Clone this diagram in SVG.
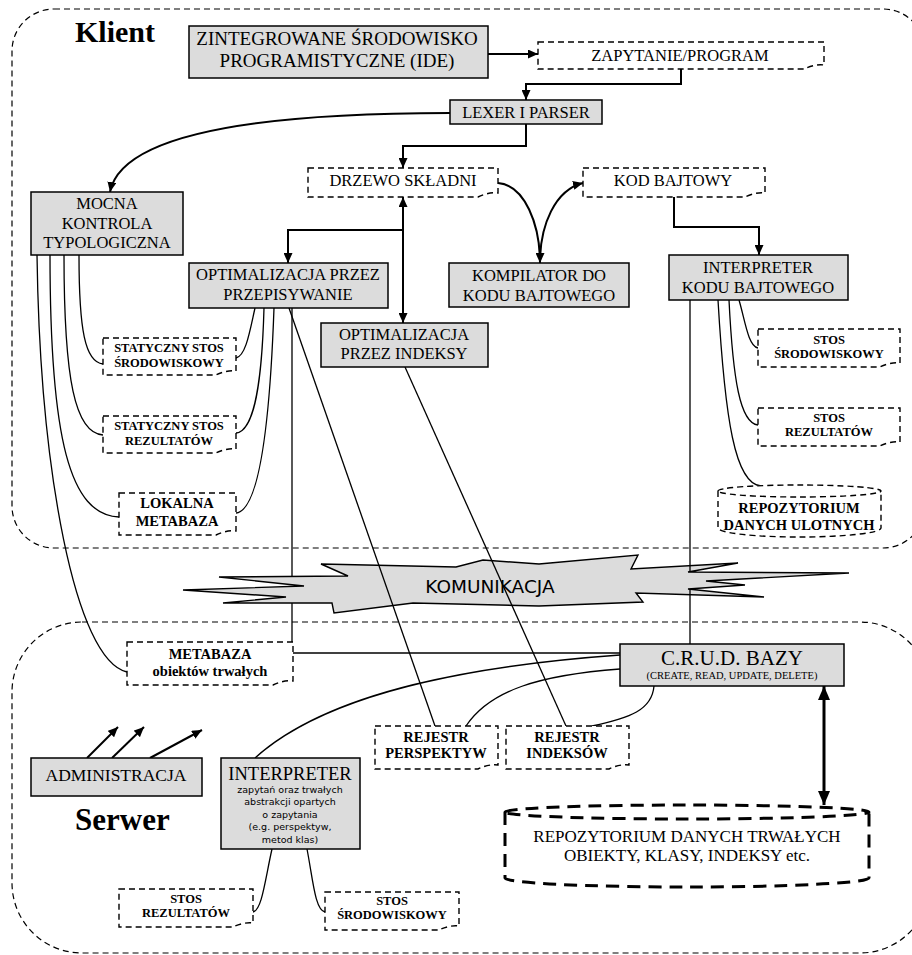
<svg xmlns="http://www.w3.org/2000/svg" width="912" height="955" viewBox="0 0 912 955">
<style>
.box{fill:#dcdcdc;stroke:#000;stroke-width:1.5}
.db{fill:#fff;stroke:#000;stroke-width:1.4;stroke-dasharray:6 4}
.region{fill:none;stroke:#000;stroke-width:1.2;stroke-dasharray:6 4}
.cyl{fill:#fff;stroke:#000;stroke-width:1.4;stroke-dasharray:6 4}
.cylT{fill:#fff;stroke:#000;stroke-width:3;stroke-dasharray:13 8}
.t{font-family:"Liberation Serif","Times New Roman",serif;fill:#000;text-anchor:middle}
.m{font-size:16.5px}
.b12{font-size:12.5px;font-weight:bold}
.b14{font-size:14.5px;font-weight:bold}
.s{font-family:"DejaVu Sans",Verdana,sans-serif;fill:#000;text-anchor:middle}
.arr{fill:none;stroke:#000;stroke-width:2;marker-end:url(#ah)}
.ln{fill:none;stroke:#000;stroke-width:1.3}
</style>
<defs>
<marker id="ah" viewBox="0 0 10 9" refX="10" refY="4.5" markerWidth="10" markerHeight="9" markerUnits="userSpaceOnUse" orient="auto-start-reverse"><path d="M0,0 L10,4.5 L0,9 z" fill="#000"/></marker>
<marker id="ahL" viewBox="0 0 14 12" refX="14" refY="6" markerWidth="14" markerHeight="12" markerUnits="userSpaceOnUse" orient="auto-start-reverse"><path d="M0,0 L14,6 L0,12 z" fill="#000"/></marker>
</defs>

<g id="regions">
<rect class="region" x="12" y="9" width="913" height="539" rx="42" ry="42"/>
<rect class="region" x="12" y="622" width="918" height="331" rx="70" ry="70"/>
<text class="t" x="75" y="42" style="font-size:30px;font-weight:bold;text-anchor:start">Klient</text>
<text class="t" x="75" y="830" style="font-size:31px;font-weight:bold;text-anchor:start">Serwer</text>
</g>

<g id="komunikacja">
<polygon points="321,564 456,567 483,560 539,564 638,555 631,569 738,563 688,572 849,573 706,581 745,585 688,589 764,597 636,593 643,602 539,606 456,604 413,603 334,613 332,603 223,603 286,597 183,590 304,586 219,577 348,576" fill="#dcdcdc" stroke="#000" stroke-width="1.4" stroke-linejoin="miter"/>
<text class="s" x="490" y="593" style="font-size:18.5px">KOMUNIKACJA</text>
</g>

<g id="connectors">
<path class="arr" d="M488,54 H538"/>
<path class="arr" d="M681,69 V84 H526 V100"/>
<path class="arr" d="M526,124 V146 H403 V168"/>
<path class="arr" d="M450,113 C230,113 120,140 110,192"/>
<path class="arr" d="M403,197 V323" marker-start="url(#ah)"/>
<path class="arr" d="M403,230 H288 V263"/>
<path class="arr" d="M498,183 C525,185 540,225 540,263"/>
<path class="arr" d="M540,263 C540,225 555,190 583,183"/>
<path class="arr" d="M674,197 V227 H759 V255"/>
<path d="M824,686 V805" fill="none" stroke="#000" stroke-width="3" marker-start="url(#ahL)" marker-end="url(#ahL)"/>
<path class="arr" d="M87,758 L118,727"/>
<path class="arr" d="M112,758 L144,727"/>
<path class="arr" d="M150,758 L202,730"/>
<path class="ln" d="M79,255 C79,330 85,362 103,364"/>
<path class="ln" d="M64,255 C64,380 75,433 103,435"/>
<path class="ln" d="M50,255 C50,440 70,515 119,517"/>
<path class="ln" d="M37,255 C40,470 75,660 127,672"/>
<path class="ln" d="M255,308 C250,330 246,356 236,358"/>
<path class="ln" d="M264,308 C262,380 255,431 236,433"/>
<path class="ln" d="M274,308 C270,420 260,511 236,513"/>
<path class="ln" d="M292,308 V576 M292,603 V642"/>
<path class="ln" d="M289,308 L435,726"/>
<path class="ln" d="M405,367 L566,726"/>
<path class="ln" d="M690,300 V572 M690,589 V644"/>
<path class="ln" d="M739,300 C745,320 748,346 758,348"/>
<path class="ln" d="M729,300 C733,380 740,423 758,425"/>
<path class="ln" d="M718,300 C725,420 735,484 761,486"/>
<path class="ln" d="M293,653 H620"/>
<path class="ln" d="M620,655 C480,665 330,690 255,758"/>
<path class="ln" d="M620,669 C540,675 490,690 466,726"/>
<path class="ln" d="M654,686 C652,710 630,718 592,726"/>
<path class="ln" d="M272,849 C265,880 262,910 253,912"/>
<path class="ln" d="M307,849 C313,880 315,910 325,912"/>
</g>

<g id="ide">
<rect class="box" x="189" y="26" width="299" height="52"/>
<text class="t" x="337" y="45" style="font-size:19px">ZINTEGROWANE ŚRODOWISKO</text>
<text class="t" x="337" y="67" style="font-size:19px">PROGRAMISTYCZNE (IDE)</text>
</g>
<g id="zapytanie">
<path class="db" d="M538,42 H824 V65 C818,64 810,66 804,69 H538 Z"/>
<text class="t m" x="680" y="61">ZAPYTANIE/PROGRAM</text>
</g>
<g id="lexer">
<rect class="box" x="450" y="100" width="152" height="24"/>
<text class="t m" x="526" y="118">LEXER I PARSER</text>
</g>
<g id="mocna">
<rect class="box" x="31" y="192" width="152" height="63"/>
<text class="t m" x="107" y="209">MOCNA</text>
<text class="t m" x="107" y="228.5">KONTROLA</text>
<text class="t m" x="107" y="248">TYPOLOGICZNA</text>
</g>
<g id="drzewo">
<path class="db" d="M308,168 H498 V193 C492,192 484,194 478,197 H308 Z"/>
<text class="t m" x="403" y="186">DRZEWO SKŁADNI</text>
</g>
<g id="kod">
<path class="db" d="M583,168 H765 V193 C759,192 751,194 745,197 H583 Z"/>
<text class="t m" x="673" y="186">KOD BAJTOWY</text>
</g>
<g id="kompilator">
<rect class="box" x="449" y="263" width="180" height="44"/>
<text class="t m" x="539" y="281">KOMPILATOR DO</text>
<text class="t m" x="539" y="301">KODU BAJTOWEGO</text>
</g>
<g id="interpreter-kodu">
<rect class="box" x="669" y="255" width="179" height="45"/>
<text class="t m" x="758" y="273">INTERPRETER</text>
<text class="t m" x="758" y="293">KODU BAJTOWEGO</text>
</g>
<g id="opt-przep">
<rect class="box" x="189" y="263" width="199" height="45"/>
<text class="t m" x="288" y="280">OPTIMALIZACJA PRZEZ</text>
<text class="t m" x="288" y="300">PRZEPISYWANIE</text>
</g>
<g id="opt-ind">
<rect class="box" x="321" y="323" width="167" height="44"/>
<text class="t m" x="404" y="340">OPTIMALIZACJA</text>
<text class="t m" x="404" y="359">PRZEZ INDEKSY</text>
</g>
<g id="stat-srod">
<path class="db" d="M103,338 H236 V371 C230,370 222,372 216,375 H103 Z"/>
<text class="t b12" x="169" y="352">STATYCZNY STOS</text>
<text class="t b12" x="169" y="367">ŚRODOWISKOWY</text>
</g>
<g id="stat-rez">
<path class="db" d="M103,416 H236 V449 C230,448 222,450 216,453 H103 Z"/>
<text class="t b12" x="169" y="430">STATYCZNY STOS</text>
<text class="t b12" x="169" y="445">REZULTATÓW</text>
</g>
<g id="lokalna">
<path class="db" d="M119,493 H236 V531 C230,530 222,532 216,535 H119 Z"/>
<text class="t b14" x="177" y="508">LOKALNA</text>
<text class="t b14" x="177" y="526">METABAZA</text>
</g>
<g id="stos-srod-k">
<path class="db" d="M758,329 H900 V363 C894,362 886,364 880,367 H758 Z"/>
<text class="t b12" x="829" y="344">STOS</text>
<text class="t b12" x="829" y="358">ŚRODOWISKOWY</text>
</g>
<g id="stos-rez-k">
<path class="db" d="M758,408 H900 V442 C894,441 886,443 880,446 H758 Z"/>
<text class="t b12" x="829" y="422">STOS</text>
<text class="t b12" x="829" y="436">REZULTATÓW</text>
</g>
<g id="repo-ulotne">
<path class="cyl" d="M718,491 A81.5,6 0 0 1 881,491 A81.5,6 0 0 1 718,491 Z M718,491 V528 A81.5,9 0 0 0 881,528 V491"/>
<text class="t b14" x="799" y="513">REPOZYTORIUM</text>
<text class="t b14" x="799" y="530">DANYCH ULOTNYCH</text>
</g>
<g id="metabaza">
<path class="db" d="M127,642 H293 V681 C287,680 279,682 273,685 H127 Z"/>
<text class="t b14" x="210" y="659">METABAZA</text>
<text class="t b14" x="210" y="676">obiektów trwałych</text>
</g>
<g id="crud">
<rect class="box" x="620" y="644" width="224" height="42"/>
<text class="t" x="732" y="665" style="font-size:21px">C.R.U.D. BAZY</text>
<text class="t" x="732" y="679" style="font-size:10.5px">(CREATE, READ, UPDATE, DELETE)</text>
</g>
<g id="rej-persp">
<path class="db" d="M375,726 H498 V765 C492,764 484,766 478,769 H375 Z"/>
<text class="t b14" x="436" y="742">REJESTR</text>
<text class="t b14" x="436" y="758">PERSPEKTYW</text>
</g>
<g id="rej-ind">
<path class="db" d="M506,726 H629 V765 C623,764 615,766 609,769 H506 Z"/>
<text class="t b14" x="567" y="742">REJESTR</text>
<text class="t b14" x="567" y="758">INDEKSÓW</text>
</g>
<g id="repo-trwale">
<path class="cylT" d="M505,812 A182,7 0 0 1 869,812 A182,7 0 0 1 505,812 Z M505,812 V878 A182,9 0 0 0 869,878 V812"/>
<text class="t" x="687" y="842" style="font-size:17px">REPOZYTORIUM DANYCH TRWAŁYCH</text>
<text class="t" x="687" y="861" style="font-size:17px">OBIEKTY, KLASY, INDEKSY etc.</text>
</g>
<g id="administracja">
<rect class="box" x="31" y="758" width="171" height="38"/>
<text class="t" x="116" y="781" style="font-size:17.5px">ADMINISTRACJA</text>
</g>
<g id="interpreter-serwer">
<rect class="box" x="221" y="758" width="139" height="91"/>
<text class="t" x="290" y="780" style="font-size:18.5px">INTERPRETER</text>
<text class="s" x="290" y="793" style="font-size:9.5px">zapytań oraz trwałych</text>
<text class="s" x="290" y="805" style="font-size:9.5px">abstrakcji opartych</text>
<text class="s" x="290" y="817.5" style="font-size:9.5px">o zapytania</text>
<text class="s" x="290" y="830" style="font-size:9.5px">(e.g. perspektyw,</text>
<text class="s" x="290" y="843" style="font-size:9.5px">metod klas)</text>
</g>
<g id="stos-rez-s">
<path class="db" d="M119,889 H253 V923 C247,922 239,924 233,927 H119 Z"/>
<text class="t b12" x="186" y="903">STOS</text>
<text class="t b12" x="186" y="917">REZULTATÓW</text>
</g>
<g id="stos-srod-s">
<path class="db" d="M325,892 H459 V926 C453,925 445,927 439,930 H325 Z"/>
<text class="t b12" x="392" y="905">STOS</text>
<text class="t b12" x="392" y="919">ŚRODOWISKOWY</text>
</g>
</svg>
